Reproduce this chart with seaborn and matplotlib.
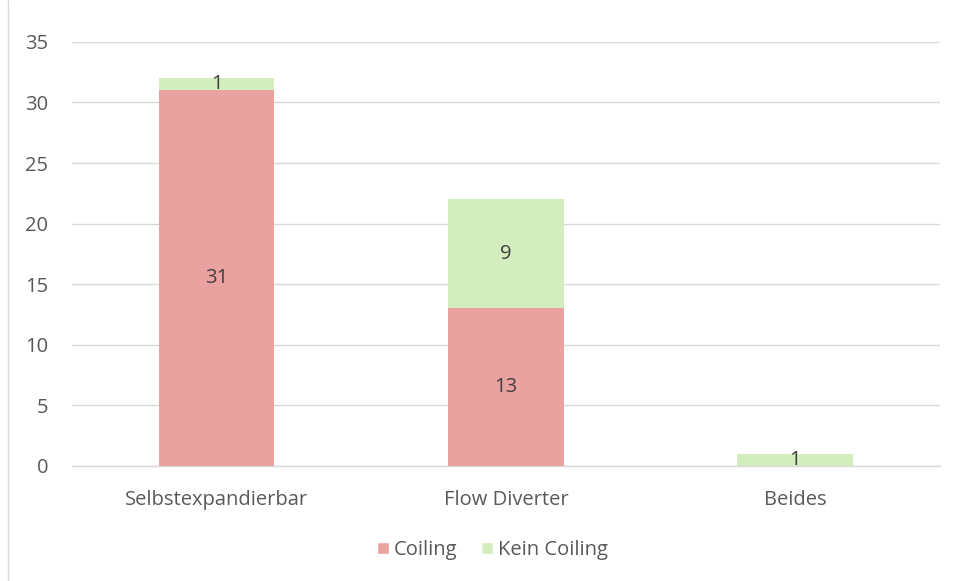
import seaborn as sns
import matplotlib.pyplot as plt
from matplotlib.patches import Patch
from matplotlib.lines import Line2D

categories = ['Selbstexpandierbar', 'Flow Diverter', 'Beides']
coiling = [31, 13, 0]
kein_coiling = [1, 9, 1]

PINK = '#EAA2A1'
GREEN = '#D3EDBF'
GRID = '#D9D9D9'
TEXT = '#595959'
FS = 14.5

sns.set_style('white')
plt.rcParams['font.family'] = ['Open Sans', 'DejaVu Sans']

fig = plt.figure(figsize=(9.57, 5.81), dpi=100)
ax = fig.add_axes([0.0752, 0.198, 0.9068, 0.730])

totals = [c + k for c, k in zip(coiling, kein_coiling)]

# stacked: total in green behind, coiling in pink on top
sns.barplot(x=categories, y=totals, color=GREEN, width=0.4, saturation=1,
            linewidth=0, ax=ax, zorder=2)
sns.barplot(x=categories, y=coiling, color=PINK, width=0.4, saturation=1,
            linewidth=0, ax=ax, zorder=3)

for i, (c, k) in enumerate(zip(coiling, kein_coiling)):
    if c > 0:
        ax.text(i, c / 2, str(c), ha='center', va='center', fontsize=FS, color='#404040', zorder=4)
    if k > 0:
        ax.text(i, c + k / 2, str(k), ha='center', va='center', fontsize=FS, color='#404040', zorder=4)

ax.set_ylim(0, 35)
ax.set_xlim(-0.5, 2.5)
ax.set_yticks(range(0, 36, 5))
ax.yaxis.grid(True, color=GRID, linewidth=1, zorder=0)
ax.set_axisbelow(True)
for s in ['top', 'right', 'left']:
    ax.spines[s].set_visible(False)
ax.spines['bottom'].set_color(GRID)
ax.spines['bottom'].set_linewidth(1)
ax.tick_params(axis='both', length=0, labelsize=FS, colors=TEXT)
ax.tick_params(axis='y', pad=17)
ax.tick_params(axis='x', pad=17)
ax.set_xlabel('')
ax.set_ylabel('')

handles = [Patch(facecolor=PINK, label='Coiling'), Patch(facecolor=GREEN, label='Kein Coiling')]
leg = fig.legend(handles=handles, loc='center', bbox_to_anchor=(0.5146, 1 - 550 / 581), ncol=2,
                 frameon=False, fontsize=FS, handlelength=0.6, handleheight=0.6,
                 handletextpad=0.25, columnspacing=1.2)
for t in leg.get_texts():
    t.set_color(TEXT)

fig.add_artist(Line2D([8 / 957, 8 / 957], [0, 1], color=GRID, linewidth=1))

fig.savefig('out.png', dpi=100)
